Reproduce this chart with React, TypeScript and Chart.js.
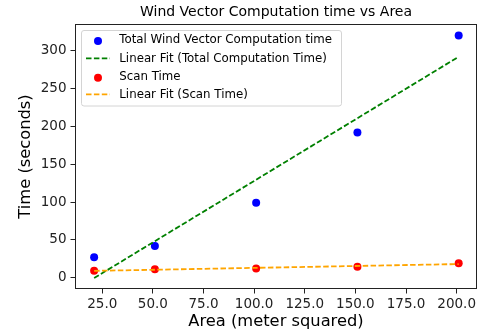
import React, { useEffect, useRef } from "react";
import { Chart, registerables } from "chart.js";

Chart.register(...registerables);

// ---- data ----
const areas = [21, 51, 101, 151, 201];
const totalTime = [27, 42, 99, 192, 320];
const scanTime = [9.3, 11, 12, 14.5, 19];
const fitX = [21, 201];
const totalFitY = [-0.5, 292];
const scanFitY = [9, 18];
const xTickValues = [25, 50, 75, 100, 125, 150, 175, 200];
const yTickValues = [0, 50, 100, 150, 200, 250, 300];

const TITLE = "Wind Vector Computation time vs Area";
const X_LABEL = "Area (meter squared)";
const Y_LABEL = "Time (seconds)";
const FONT = "'DejaVu Sans', sans-serif";

const titlePlugin = {
  id: "mplTitle",
  afterDraw(chart: any) {
    const { ctx, chartArea } = chart;
    ctx.save();
    ctx.font = `14px ${FONT}`;
    ctx.fillStyle = "#000";
    ctx.textAlign = "center";
    ctx.textBaseline = "alphabetic";
    ctx.fillText(TITLE, (chartArea.left + chartArea.right) / 2, 16);
    ctx.restore();
  },
};

const framePlugin = {
  id: "mplFrame",
  afterDatasetsDraw(chart: any) {
    const { ctx, chartArea } = chart;
    ctx.save();
    ctx.strokeStyle = "#222";
    ctx.lineWidth = 1;
    ctx.strokeRect(
      chartArea.left,
      chartArea.top,
      chartArea.right - chartArea.left,
      chartArea.bottom - chartArea.top
    );
    ctx.restore();
  },
};

const legendPlugin = {
  id: "mplLegend",
  afterDraw(chart: any) {
    const { ctx } = chart;
    const boxL = 81.5, boxT = 30.5, boxW = 260, boxH = 75.5, r = 2.5;
    ctx.save();
    ctx.beginPath();
    ctx.moveTo(boxL + r, boxT);
    ctx.lineTo(boxL + boxW - r, boxT);
    ctx.arcTo(boxL + boxW, boxT, boxL + boxW, boxT + r, r);
    ctx.lineTo(boxL + boxW, boxT + boxH - r);
    ctx.arcTo(boxL + boxW, boxT + boxH, boxL + boxW - r, boxT + boxH, r);
    ctx.lineTo(boxL + r, boxT + boxH);
    ctx.arcTo(boxL, boxT + boxH, boxL, boxT + boxH - r, r);
    ctx.lineTo(boxL, boxT + r);
    ctx.arcTo(boxL, boxT, boxL + r, boxT, r);
    ctx.closePath();
    ctx.fillStyle = "rgba(255,255,255,0.8)";
    ctx.fill();
    ctx.strokeStyle = "#d4d4d4";
    ctx.lineWidth = 1;
    ctx.stroke();

    const baselines = [43.3, 61.7, 80, 97.7];
    ctx.font = `11.8px ${FONT}`;
    ctx.textAlign = "left";
    ctx.textBaseline = "alphabetic";
    chart.data.datasets.forEach((ds: any, i: number) => {
      const b = baselines[i];
      if (ds.showLine) {
        ctx.save();
        ctx.strokeStyle = ds.borderColor;
        ctx.lineWidth = ds.borderWidth;
        ctx.setLineDash(ds.borderDash || []);
        ctx.beginPath();
        ctx.moveTo(86, b - 3.4);
        ctx.lineTo(110, b - 3.4);
        ctx.stroke();
        ctx.restore();
      } else {
        ctx.beginPath();
        ctx.fillStyle = ds.backgroundColor;
        ctx.arc(98, b - 2.3, ds.pointRadius, 0, Math.PI * 2);
        ctx.fill();
      }
      ctx.fillStyle = "#000";
      ctx.fillText(ds.label, 119.3, b);
    });
    ctx.restore();
  },
};

export default function App() {
  const canvasRef = useRef<HTMLCanvasElement | null>(null);

  useEffect(() => {
    document.body.style.margin = "0";
    const canvas = canvasRef.current;
    if (!canvas) return;

    const pts = (xs: number[], ys: number[]) => xs.map((x, i) => ({ x, y: ys[i] }));

    const chart = new Chart(canvas, {
      type: "scatter",
      data: {
        datasets: [
          {
            label: "Total Wind Vector Computation time",
            data: pts(areas, totalTime),
            backgroundColor: "#0000ff",
            borderColor: "#0000ff",
            pointRadius: 4,
            pointBorderWidth: 0,
            showLine: false,
            order: 3,
          },
          {
            label: "Linear Fit (Total Computation Time)",
            data: pts(fitX, totalFitY),
            borderColor: "#008000",
            backgroundColor: "#008000",
            borderWidth: 1.8,
            borderDash: [5.5, 2.4],
            pointRadius: 0,
            showLine: true,
            order: 1,
          },
          {
            label: "Scan Time",
            data: pts(areas, scanTime),
            backgroundColor: "#ff0000",
            borderColor: "#ff0000",
            pointRadius: 4,
            pointBorderWidth: 0,
            showLine: false,
            order: 2,
          },
          {
            label: "Linear Fit (Scan Time)",
            data: pts(fitX, scanFitY),
            borderColor: "#ffa500",
            backgroundColor: "#ffa500",
            borderWidth: 1.8,
            borderDash: [5.5, 2.4],
            pointRadius: 0,
            showLine: true,
            order: 0,
          },
        ] as any,
      },
      options: {
        animation: false,
        responsive: false,
        maintainAspectRatio: false,
        layout: { padding: { top: 24.5, right: 5.5, left: 0, bottom: 0 } },
        plugins: {
          legend: { display: false },
          title: { display: false },
          tooltip: { enabled: false },
        },
        scales: {
          x: {
            type: "linear",
            min: 11.8,
            max: 209.8,
            afterFit: (s: any) => {
              s.height = 44.5;
            },
            afterBuildTicks: (s: any) => {
              s.ticks = xTickValues.map((v) => ({ value: v }));
            },
            ticks: {
              font: { family: FONT, size: 13.5 },
              color: "#222",
              padding: 3,
              maxRotation: 0,
              autoSkip: false,
              callback: (v: any) => Number(v).toFixed(1),
            },
            grid: {
              drawOnChartArea: false,
              drawTicks: true,
              tickLength: 5,
              tickColor: "#222",
              tickWidth: 1,
            },
            border: { display: false },
            title: {
              display: true,
              text: X_LABEL,
              font: { family: FONT, size: 16.3 },
              color: "#000",
              padding: { top: 0, bottom: 1.3 },
            },
          },
          y: {
            type: "linear",
            min: -14.3,
            max: 334.6,
            afterFit: (s: any) => {
              s.width = 75.5;
            },
            afterBuildTicks: (s: any) => {
              s.ticks = yTickValues.map((v) => ({ value: v }));
            },
            ticks: {
              font: { family: FONT, size: 13.5 },
              color: "#222",
              padding: 4,
              autoSkip: false,
              callback: (v: any) => String(v),
            },
            grid: {
              drawOnChartArea: false,
              drawTicks: true,
              tickLength: 5,
              tickColor: "#222",
              tickWidth: 1,
            },
            border: { display: false },
            title: {
              display: true,
              text: Y_LABEL,
              font: { family: FONT, size: 16.3 },
              color: "#000",
              padding: { top: 15.5, bottom: 0 },
            },
          },
        },
      },
      plugins: [titlePlugin, framePlugin, legendPlugin],
    } as any);

    return () => chart.destroy();
  }, []);

  return (
    <div style={{ width: 482, height: 333, position: "relative" }}>
      <canvas ref={canvasRef} width={482} height={333} />
    </div>
  );
}
